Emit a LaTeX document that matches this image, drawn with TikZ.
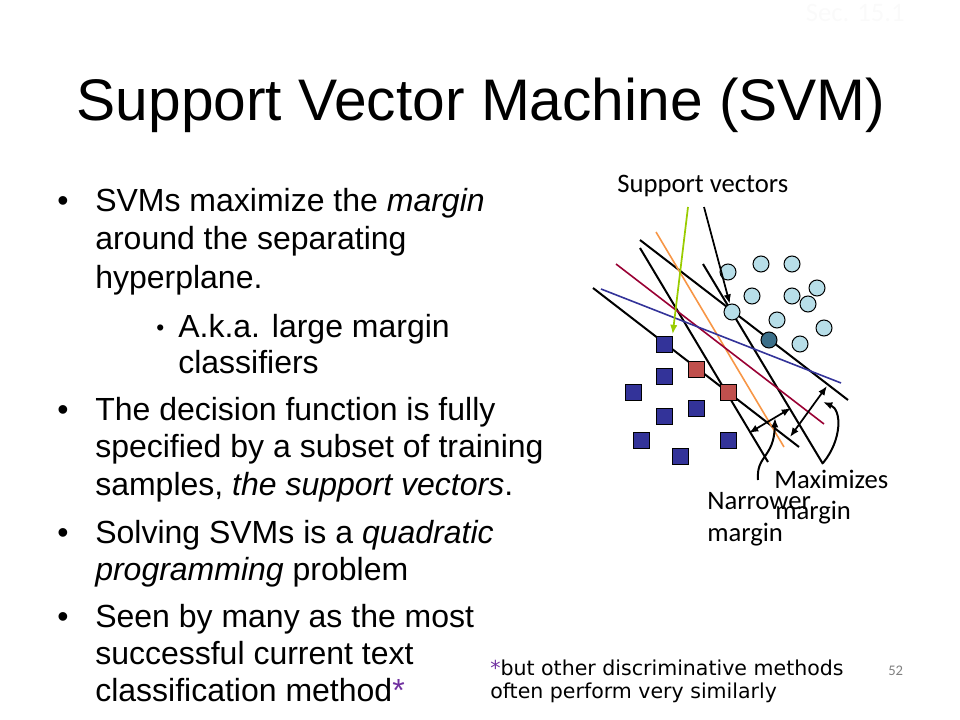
\documentclass[tikz,border=0pt]{standalone}
\usepackage{fontspec}
\setmainfont{Liberation Sans}
\newfontfamily\calibri{Carlito}
\newfontfamily\lucida{DejaVu Sans}
\usetikzlibrary{arrows.meta}

\definecolor{svblue}{RGB}{51,51,153}
\definecolor{svred}{RGB}{192,80,77}
\definecolor{svcyan}{RGB}{183,222,232}
\definecolor{svteal}{RGB}{60,111,137}
\definecolor{svgreen}{RGB}{153,204,0}
\definecolor{svorange}{RGB}{247,150,70}
\definecolor{svcrimson}{RGB}{153,0,51}
\definecolor{svpurple}{RGB}{112,48,160}

\tikzset{
  txt/.style={anchor=base west,inner sep=0pt,font=\fontsize{24}{28.8}\selectfont},
  lbl/.style={anchor=base west,inner sep=0pt,font=\calibri\fontsize{20}{24}\selectfont},
  sample/.style={draw=black,line width=0.75pt,inner sep=0pt,minimum size=12pt},
  sqr/.style={sample,rectangle,fill=svblue},
  ball/.style={sample,circle,fill=svcyan},
}

\begin{document}
\begin{tikzpicture}[x=0.75pt,y=-0.75pt,>={Latex[length=7pt,width=5.5pt]}]
    \useasboundingbox (0,0) rectangle (960,720);

    \node[lbl,anchor=base east,text=gray!4] (sec) at (905,22) {Sec. 15.1};
    \node[anchor=base,inner sep=0pt,font=\fontsize{44}{52.8}\selectfont] (title) at (481,121) {Support Vector Machine (SVM)};

    % bullets
    \node[txt] (dot1) at (57,212) {•};
    \node[txt] (l1) at (95,212) {SVMs maximize the \textit{margin}};
    \node[txt] (l2) at (95,250) {around the separating};
    \node[txt] (l3) at (95,288) {hyperplane.};
    \node[txt,font=\fontsize{17}{20}\selectfont] (dot2) at (156,335) {•};
    \node[txt] (l4) at (178,337) {A.k.a. large margin};
    \node[txt] (l5) at (178,373) {classifiers};
    \node[txt] (dot3) at (57,420) {•};
    \node[txt] (l6) at (95,420) {The decision function is fully};
    \node[txt] (l7) at (95,457.5) {specified by a subset of training};
    \node[txt] (l8) at (95,495) {samples, \textit{the support vectors}.};
    \node[txt] (dot4) at (57,543) {•};
    \node[txt] (l9) at (95,543) {Solving SVMs is a \textit{quadratic}};
    \node[txt] (l10) at (95,580.5) {\textit{programming} problem};
    \node[txt] (dot5) at (57,627) {•};
    \node[txt] (l11) at (95,627) {Seen by many as the most};
    \node[txt] (l12) at (95,664) {successful current text};
    \node[txt] (l13) at (95,701) {classification method\textcolor{svpurple}{*}};

    % separating lines
    \draw[line width=1.5pt] (640,240)--(848,400);
    \draw[line width=1.5pt] (593,288)--(799,447);
    \draw[line width=1.5pt] (640,248)--(768,462);
    \draw[line width=1.5pt] (703,264)--(823,464);
    \draw[svorange,line width=1.2pt] (656,232)--(784,447);
    \draw[svcrimson,line width=1.2pt] (616,264)--(824,424);
    \draw[svblue,line width=1.2pt] (601,289)--(841,383);

    % samples
    \node[ball] (c1) at (728,272) {};
    \node[ball] (c2) at (761,264) {};
    \node[ball] (c3) at (792,264) {};
    \node[ball] (c4) at (752,296) {};
    \node[ball] (c5) at (792,296) {};
    \node[ball] (c6) at (817,288) {};
    \node[ball] (c7) at (808,304) {};
    \node[ball] (c8) at (732,312) {};
    \node[ball] (c9) at (777,320) {};
    \node[ball] (c10) at (824,328) {};
    \node[ball] (c11) at (800,344) {};
    \node[ball,fill=svteal] (c12) at (769,340) {};
    \node[sqr] (s1) at (664,344) {};
    \node[sqr,fill=svred] (s2) at (696,369) {};
    \node[sqr] (s3) at (664,376) {};
    \node[sqr] (s4) at (633,392) {};
    \node[sqr,fill=svred] (s5) at (728,392) {};
    \node[sqr] (s6) at (696,408) {};
    \node[sqr] (s7) at (664,416) {};
    \node[sqr] (s8) at (641,440) {};
    \node[sqr] (s9) at (728,440) {};
    \node[sqr] (s10) at (680,456) {};

    % labels and arrows
    \node[lbl] (svl) at (617,193) {Support vectors};
    \coordinate (svg) at (688,207);
    \coordinate (svk) at (704,207);
    \draw[->,svgreen,line width=1.3pt,shorten >=1pt] (svg)--(s1.north east);
    \draw[->,line width=1.3pt] (svk)--(c8);

    \draw[<->,line width=1.3pt] (749,433)--(791,408);
    \draw[<->,line width=1.3pt] (790,437)--(827,386);
    \draw[->,line width=1.5pt] (758,480) .. controls (756,455) and (774,458) .. (775,418);
    \draw[->,line width=1.5pt] (823,463) .. controls (842,440) and (842,410) .. (823,402);

    \node[lbl] (max1) at (774,488) {Maximizes};
    \node[lbl] (max2) at (775,519) {margin};
    \node[lbl] (nar1) at (707,509) {Narrower};
    \node[lbl] (nar2) at (707,541) {margin};

    \node[anchor=base west,inner sep=0pt,font=\lucida\fontsize{15.4}{18}\selectfont] (fn1) at (490,675) {\textcolor{svpurple}{*}but other discriminative methods};
    \node[anchor=base west,inner sep=0pt,font=\lucida\fontsize{15.4}{18}\selectfont] (fn2) at (490,698) {often perform very similarly};
    \node[anchor=base west,inner sep=0pt,text=gray,font=\calibri\fontsize{11}{13}\selectfont] (pnum) at (888,675) {52};
\end{tikzpicture}
\end{document}
